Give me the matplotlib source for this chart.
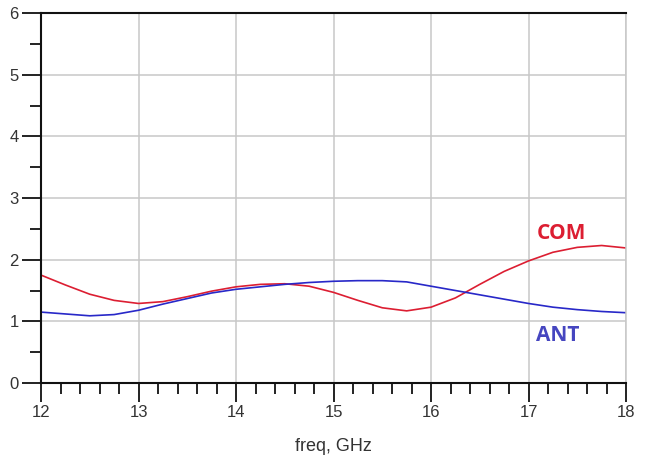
import numpy as np
import matplotlib.pyplot as plt
from matplotlib.ticker import MultipleLocator

plt.rcParams['font.family'] = ['Liberation Sans', 'DejaVu Sans']

freq = [12.0, 12.25, 12.5, 12.75, 13.0, 13.25, 13.5, 13.75, 14.0, 14.25, 14.5, 14.75,
        15.0, 15.25, 15.5, 15.75, 16.0, 16.25, 16.5, 16.75, 17.0, 17.25, 17.5, 17.75, 18.0]
com = [1.75, 1.59, 1.44, 1.34, 1.29, 1.32, 1.40, 1.49, 1.56, 1.60, 1.61, 1.57,
       1.47, 1.34, 1.22, 1.17, 1.23, 1.38, 1.60, 1.81, 1.98, 2.12, 2.20, 2.23, 2.19]
ant = [1.15, 1.12, 1.09, 1.11, 1.18, 1.28, 1.37, 1.46, 1.52, 1.56, 1.60, 1.63,
       1.65, 1.66, 1.66, 1.64, 1.57, 1.50, 1.43, 1.36, 1.29, 1.23, 1.19, 1.16, 1.14]

fig = plt.figure(figsize=(6.49, 4.65), dpi=100)
ax = fig.add_axes([0.0632, 0.1763, 0.9014, 0.7957])

ax.plot(freq, com, c='#dc1e32', lw=1.2)
ax.plot(freq, ant, c='#2828c8', lw=1.2)

ax.text(17.34, 2.43, 'COM', color='#dc1e32', fontsize=15, fontweight='bold',
        family='Open Sans', ha='center', va='center')
ax.text(17.3, 0.77, 'ANT', color='#4646c0', fontsize=15, fontweight='bold',
        family='Open Sans', ha='center', va='center')

ax.set_xlim(12, 18)
ax.set_ylim(0, 6)
ax.xaxis.set_major_locator(MultipleLocator(1))
ax.xaxis.set_minor_locator(MultipleLocator(0.2))
ax.yaxis.set_major_locator(MultipleLocator(1))
ax.yaxis.set_minor_locator(MultipleLocator(0.5))

ax.grid(True, which='major', color='#c8c8c8', lw=1.1)
ax.set_axisbelow(True)

for s in ['left', 'bottom', 'top']:
    ax.spines[s].set_color('#111111')
    ax.spines[s].set_linewidth(1.5)
ax.spines['right'].set_color('#c8c8c8')
ax.spines['right'].set_linewidth(1.1)

ax.tick_params(which='major', direction='out', length=14, width=1.3, color='#111111',
               labelsize=12, labelcolor='#333333')
ax.tick_params(which='minor', direction='out', length=8, width=1.3, color='#111111')
ax.tick_params(axis='y', pad=2)
ax.tick_params(axis='x', pad=2)

ax.set_xlabel('freq, GHz', fontsize=13, color='#333333', labelpad=13)

plt.savefig('out.png', dpi=100)
